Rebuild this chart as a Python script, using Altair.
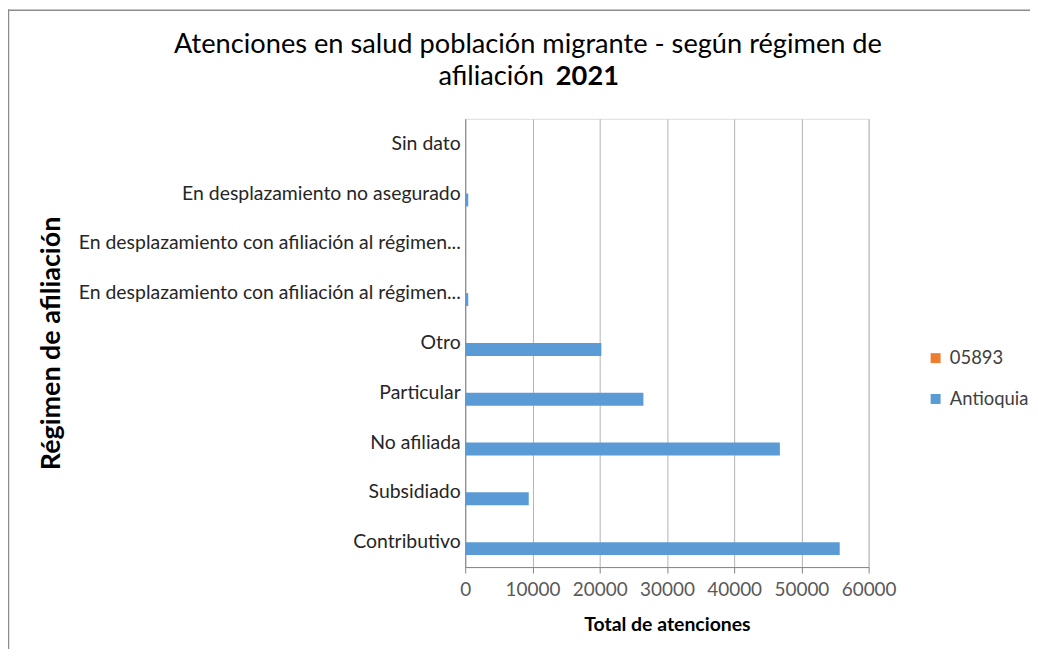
import altair as alt
import pandas as pd

# ---- data ----
categorias = [
    "Contributivo",
    "Subsidiado",
    "No afiliada",
    "Particular",
    "Otro",
    "En desplazamiento con afiliación al régimen contributivo",
    "En desplazamiento con afiliación al régimen subsidiado",
    "En desplazamiento no asegurado",
    "Sin dato",
]
antioquia = [55700, 9450, 46800, 26500, 20250, 450, 80, 450, 50]
mun_05893 = [0, 0, 0, 0, 0, 0, 0, 0, 0]
series = ["05893", "Antioquia"]
colores = ["#ED7D31", "#5B9BD5"]
ticks_x = [0, 10000, 20000, 30000, 40000, 50000, 60000]

titulo_1 = "Atenciones en salud población migrante - según régimen de"
titulo_2a = "afiliación"
titulo_2b = "2021"

rows = []
for c, v in zip(categorias, mun_05893):
    rows.append({"Categoria": c, "Serie": series[0], "Valor": v})
for c, v in zip(categorias, antioquia):
    rows.append({"Categoria": c, "Serie": series[1], "Valor": v})
df = pd.DataFrame(rows)

orden = list(reversed(categorias))
FONT = "Lato"

bars = alt.Chart(df).mark_bar().encode(
    y=alt.Y(
        "Categoria:N",
        sort=orden,
        scale=alt.Scale(paddingInner=0.48, paddingOuter=0.24),
        axis=alt.Axis(
            title="Régimen de afiliación",
            titleFontSize=27,
            titleFontWeight="bold",
            titleColor="#000000",
            titleAngle=-90,
            titleX=-415,
            titleY=225,
            titleAlign="center",
            titleBaseline="middle",
            labelFontSize=19.5,
            labelColor="#262626",
            labelPadding=5,
            labelLimit=500,
            labelExpr="length(datum.label) > 43 ? substring(datum.label, 0, 43) + '...' : datum.label",
            ticks=False,
            domainColor="#868686",
            domainWidth=1,
            grid=False,
        ),
    ),
    yOffset=alt.YOffset(
        "Serie:N", sort=series, scale=alt.Scale(paddingInner=0, paddingOuter=0)
    ),
    x=alt.X(
        "Valor:Q",
        scale=alt.Scale(domain=[0, 60000], nice=False),
        axis=alt.Axis(
            title="Total de atenciones",
            titleFontSize=19.5,
            titleFontWeight="bold",
            titleColor="#000000",
            titleY=58,
            titleBaseline="middle",
            values=ticks_x,
            format="d",
            labelFontSize=19,
            labelColor="#595959",
            labelPadding=8,
            labelOverlap=False,
            labelFlush=False,
            tickSize=6,
            tickColor="#868686",
            domainColor="#868686",
            grid=True,
            gridColor="#B3B3B3",
            gridWidth=1,
        ),
    ),
    color=alt.Color(
        "Serie:N",
        scale=alt.Scale(domain=series, range=colores),
        legend=alt.Legend(
            title=None,
            orient="none",
            legendX=463,
            legendY=231,
            symbolType="square",
            symbolSize=100,
            symbolStrokeWidth=0,
            labelFontSize=18.5,
            labelColor="#404040",
            rowPadding=22,
            labelOffset=5,
            padding=0,
        ),
    ),
)

t1 = alt.Chart(pd.DataFrame({"t": [titulo_1]})).mark_text(
    font=FONT, fontSize=27.3, color="#000000", align="center", baseline="middle"
).encode(text="t:N", x=alt.value(63), y=alt.value(-74))

t2a = alt.Chart(pd.DataFrame({"t": [titulo_2a]})).mark_text(
    font=FONT, fontSize=27.3, color="#000000", align="right", baseline="middle"
).encode(text="t:N", x=alt.value(79), y=alt.value(-42))

t2b = alt.Chart(pd.DataFrame({"t": [titulo_2b]})).mark_text(
    font=FONT, fontSize=27.3, fontWeight="bold", color="#000000", align="left", baseline="middle"
).encode(text="t:N", x=alt.value(91), y=alt.value(-42))

borde_top = alt.Chart(pd.DataFrame({"k": [0]})).mark_rule(color="#8C8C8C", strokeWidth=1.5).encode(
    x=alt.value(-459), x2=alt.value(575), y=alt.value(-109), y2=alt.value(-109)
)
borde_left = alt.Chart(pd.DataFrame({"k": [0]})).mark_rule(color="#8C8C8C", strokeWidth=1.5).encode(
    x=alt.value(-458.5), x2=alt.value(-458.5), y=alt.value(-110), y2=alt.value(545)
)

chart = alt.layer(bars, t1, t2a, t2b, borde_top, borde_left).properties(
    width=405,
    height=450,
    autosize=alt.AutoSizeParams(type="none"),
    padding={"left": 459, "top": 110, "right": 162, "bottom": 81},
    background="#FFFFFF",
).configure_view(stroke=None).configure(font=FONT)

chart.save("out.html", embed_options={"renderer": "svg", "actions": False})
